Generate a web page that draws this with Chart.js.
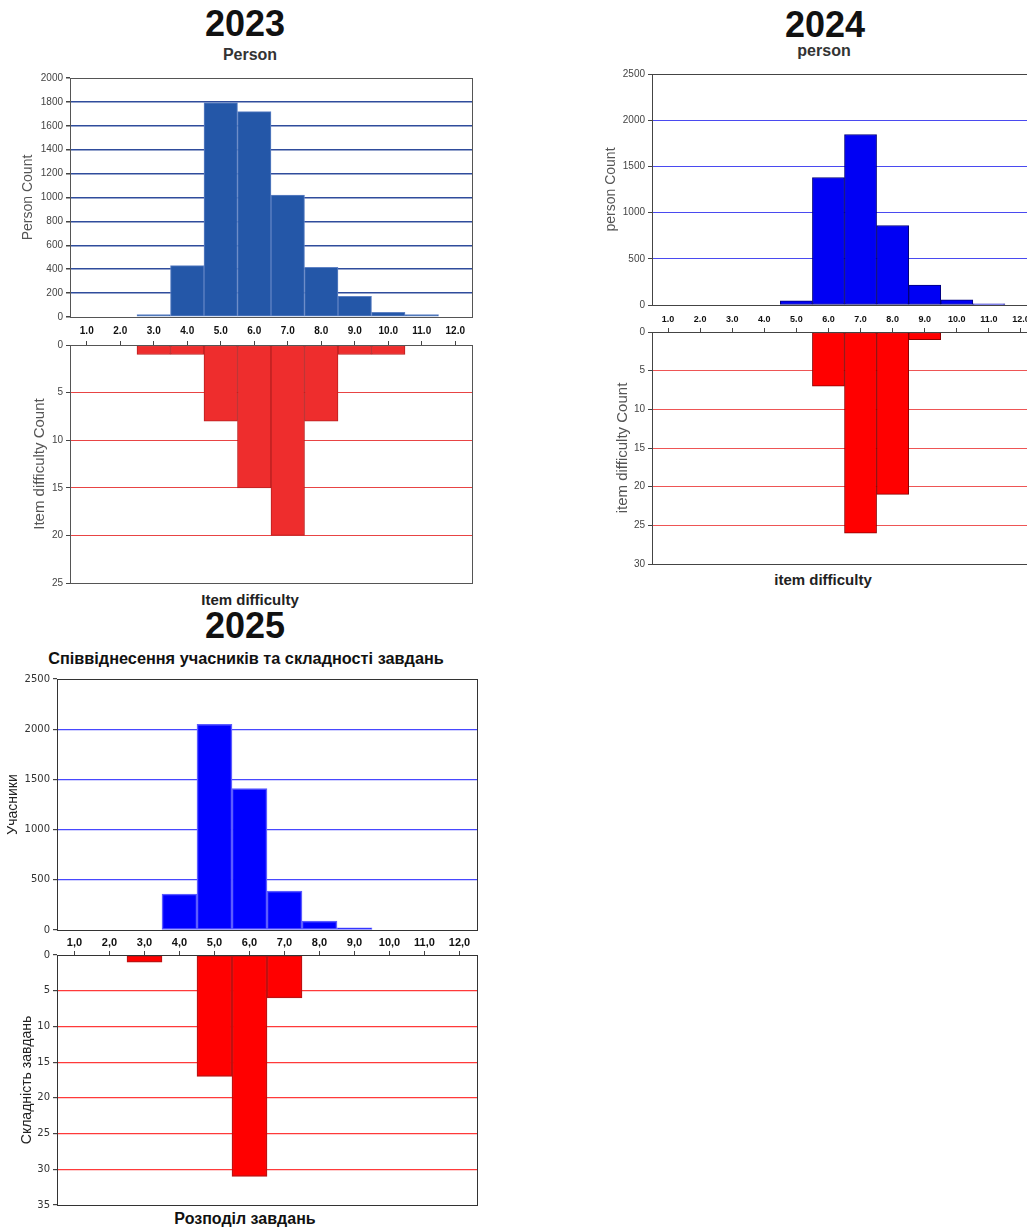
<!DOCTYPE html>
<html>
<head>
<meta charset="utf-8">
<script src="https://cdn.jsdelivr.net/npm/chart.js@4.4.1/dist/chart.umd.min.js"></script>
<style>
  html, body { margin: 0; padding: 0; background: #fff; overflow: hidden; }
  body { width: 1027px; height: 1227px; position: relative; font-family: 'Liberation Sans', Arial, sans-serif; }
  .box { position: absolute; }
  .t { position: absolute; transform: translate(-50%, -50%); white-space: nowrap; line-height: 1; font-weight: bold; color: #111; }
</style>
</head>
<body>
<div class="t" style="left:245px;top:24px;font-size:36px">2023</div>
<div class="t" style="left:250px;top:55px;font-size:16px;color:#333">Person</div>
<div class="t" style="left:250px;top:599px;font-size:15px;color:#222">Item difficulty</div>

<div class="t" style="left:825px;top:25px;font-size:36px">2024</div>
<div class="t" style="left:824px;top:51px;font-size:16px;color:#333">person</div>
<div class="t" style="left:823px;top:579px;font-size:15px;color:#222">item difficulty</div>

<div class="t" style="left:245px;top:626px;font-size:36px">2025</div>
<div class="t" style="left:246px;top:658px;font-size:16.3px;color:#111">Співвіднесення учасників та складності завдань</div>
<div class="t" style="left:245px;top:1219px;font-size:16px;color:#111">Розподіл завдань</div>

<script>
// bins of the logit-like scale, shared by all six histograms
const bins = ['1.0', '2.0', '3.0', '4.0', '5.0', '6.0', '7.0', '8.0', '9.0', '10.0', '11.0', '12.0'];
const binsUa = ['1,0', '2,0', '3,0', '4,0', '5,0', '6,0', '7,0', '8,0', '9,0', '10,0', '11,0', '12,0'];

// 2023
const person2023 = [0, 0, 20, 430, 1795, 1718, 1020, 415, 173, 40, 20, 0];
const items2023 = [0, 0, 1, 1, 8, 15, 20, 8, 1, 1, 0, 0];
// 2024
const person2024 = [0, 0, 0, 0, 45, 1380, 1845, 860, 215, 55, 12, 0];
const items2024 = [0, 0, 0, 0, 0, 7, 26, 21, 1, 0, 0, 0];
// 2025
const person2025 = [0, 0, 0, 357, 2048, 1408, 388, 90, 22, 0, 0, 0];
const items2025 = [0, 0, 1, 0, 17, 31, 6, 0, 0, 0, 0, 0];

const frame = {
  id: 'frame',
  afterDraw(chart, args, opts) {
    const a = chart.chartArea, c = chart.ctx;
    c.save();
    c.strokeStyle = opts.color;
    c.lineWidth = 1;
    c.strokeRect(Math.round(a.left) + 0.5, Math.round(a.top) + 0.5, Math.round(a.right - a.left), Math.round(a.bottom - a.top));
    c.restore();
  }
};

function histogram(o) {
  const topAxis = o.lower ? 5 : 0;
  const padT = 8;
  const box = document.createElement('div');
  box.className = 'box';
  box.style.left = o.left + 'px';
  box.style.top = (o.y0 - padT - topAxis) + 'px';
  box.style.width = (o.x1 - o.left + 3) + 'px';
  box.style.height = (padT + topAxis + (o.y1 - o.y0) + (o.lower ? 8 : 26)) + 'px';
  const canvas = document.createElement('canvas');
  box.appendChild(canvas);
  document.body.appendChild(box);

  const titleLh = o.titleFont.size * 1.2;
  const xAxis = o.lower
    ? { position: 'top', offset: true,
        grid: { offset: false, drawOnChartArea: false, drawTicks: true, tickLength: 4, tickColor: '#444' },
        border: { display: false }, ticks: { display: false },
        afterFit: s => { s.height = 5; } }
    : { position: 'bottom', offset: true,
        grid: { display: false, drawTicks: false }, border: { display: false },
        ticks: { font: o.xFont, color: '#111', padding: o.xPad, maxRotation: 0, autoSkip: false },
        afterFit: s => { s.height = 26; } };

  new Chart(canvas, {
    type: 'bar',
    data: {
      labels: o.labels,
      datasets: [{
        data: o.data.map(v => v || null),
        backgroundColor: o.color,
        borderColor: o.border,
        borderWidth: o.bw || 1,
        borderSkipped: false,
        barPercentage: 1,
        categoryPercentage: 1
      }]
    },
    options: {
      responsive: true,
      maintainAspectRatio: false,
      animation: false,
      events: [],
      devicePixelRatio: 1,
      layout: { padding: { top: padT, right: 2, left: 0, bottom: o.lower ? 8 : 0 } },
      plugins: { legend: { display: false }, tooltip: { enabled: false }, frame: { color: o.frame } },
      scales: {
        x: xAxis,
        y: {
          min: 0, max: o.max, reverse: !!o.lower,
          ticks: { stepSize: o.step, font: o.tickFont, color: o.tickColor, padding: 3, callback: v => String(v) },
          grid: {
            // the frame already draws the 0 and max lines
            color: ctx => (ctx.tick && (ctx.tick.value === 0 || ctx.tick.value === o.max)) ? 'rgba(0,0,0,0)' : o.grid,
            lineWidth: o.gridW || 1, tickLength: 4, tickColor: '#444'
          },
          border: { display: false },
          title: { display: true, text: o.title, font: o.titleFont, color: o.titleColor,
                   padding: { top: o.titleX - o.left - titleLh / 2, bottom: 0 } },
          afterFit: s => { s.width = o.x0 - o.left; }
        }
      }
    },
    plugins: [frame]
  });
}

const narrow = { family: "'Liberation Sans', Arial, sans-serif", size: 10 };

// 2023
histogram({ labels: bins, data: person2023, left: 0, x0: 70, x1: 471, y0: 77, y1: 317,
  max: 2000, step: 200, color: '#2457a8', border: '#5f82c4', grid: '#2f4c9c', gridW: 1.5,
  tickFont: narrow, tickColor: '#444', xFont: { family: "'Liberation Sans', Arial", size: 10, weight: 'bold' }, xPad: 8,
  title: 'Person Count', titleFont: { family: "'Liberation Sans', Arial", size: 14 }, titleColor: '#555', titleX: 28, frame: '#555' });
histogram({ labels: bins, data: items2023, lower: true, left: 0, x0: 70, x1: 471, y0: 345, y1: 584,
  max: 25, step: 5, color: '#ee2d2d', border: '#b82020', grid: '#e84444',
  tickFont: narrow, tickColor: '#444',
  title: 'Item difficulty Count', titleFont: { family: "'Liberation Sans', Arial", size: 15 }, titleColor: '#555', titleX: 40, frame: '#555' });

// 2024
histogram({ labels: bins, data: person2024, left: 595, x0: 652, x1: 1036, y0: 73, y1: 305,
  max: 2500, step: 500, color: '#0000f4', border: '#00007a', grid: '#4a4af0',
  tickFont: narrow, tickColor: '#444', xFont: { family: "'Liberation Sans', Arial", size: 9, weight: 'bold' }, xPad: 9,
  title: 'person Count', titleFont: { family: "'Liberation Sans', Arial", size: 14 }, titleColor: '#555', titleX: 611, frame: '#444' });
histogram({ labels: bins, data: items2024, lower: true, left: 595, x0: 652, x1: 1036, y0: 332, y1: 565,
  max: 30, step: 5, color: '#ff0000', border: '#8a0000', grid: '#ee5555',
  tickFont: narrow, tickColor: '#444',
  title: 'item difficulty Count', titleFont: { family: "'Liberation Sans', Arial", size: 15 }, titleColor: '#555', titleX: 623, frame: '#444' });

// 2025
const tahoma = { family: "'DejaVu Sans', sans-serif", size: 10 };
histogram({ labels: binsUa, data: person2025, left: 0, x0: 57, x1: 476, y0: 678, y1: 930,
  max: 2500, step: 500, color: '#0000ff', border: '#5c5cff', bw: 1.5, grid: '#4848ff', gridW: 1.2,
  tickFont: tahoma, tickColor: '#333', xFont: { family: "'Liberation Sans', Arial", size: 11, weight: 'bold' }, xPad: 6,
  title: 'Учасники', titleFont: { family: "'Liberation Sans', Arial", size: 14 }, titleColor: '#222', titleX: 13, frame: '#333' });
histogram({ labels: binsUa, data: items2025, lower: true, left: 0, x0: 57, x1: 476, y0: 955, y1: 1206,
  max: 35, step: 5, color: '#ff0000', border: '#c01010', bw: 1.5, grid: '#ff3a3a', gridW: 1.2,
  tickFont: tahoma, tickColor: '#333',
  title: 'Складність завдань', titleFont: { family: "'Liberation Sans', Arial", size: 14 }, titleColor: '#222', titleX: 27, frame: '#333' });
</script>
</body>
</html>
